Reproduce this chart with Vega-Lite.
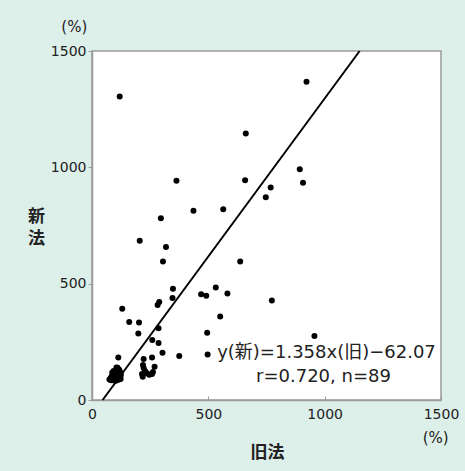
{
  "$schema": "https://vega.github.io/schema/vega-lite/v6.json",
  "autosize": {"type": "none"},
  "width": 349,
  "height": 349,
  "padding": {"left": 92, "top": 51, "right": 24, "bottom": 71},
  "background": "#dcefe9",
  "config": {
    "view": {"fill": "white", "stroke": "#9a9a9a", "strokeWidth": 1.5},
    "font": "DejaVu Sans"
  },
  "datasets": {
    "points": [
      {"old": 119, "new": 1304}, {"old": 922, "new": 1368}, {"old": 661, "new": 1145},
      {"old": 893, "new": 992}, {"old": 907, "new": 934}, {"old": 658, "new": 944},
      {"old": 363, "new": 942}, {"old": 768, "new": 913}, {"old": 747, "new": 871},
      {"old": 436, "new": 813}, {"old": 564, "new": 820}, {"old": 296, "new": 781},
      {"old": 205, "new": 684}, {"old": 318, "new": 658}, {"old": 305, "new": 595},
      {"old": 637, "new": 595}, {"old": 348, "new": 478}, {"old": 532, "new": 484},
      {"old": 469, "new": 454}, {"old": 491, "new": 448}, {"old": 582, "new": 458},
      {"old": 346, "new": 438}, {"old": 773, "new": 428}, {"old": 289, "new": 421},
      {"old": 282, "new": 408}, {"old": 130, "new": 392}, {"old": 551, "new": 359},
      {"old": 160, "new": 335}, {"old": 202, "new": 333}, {"old": 286, "new": 308},
      {"old": 199, "new": 286}, {"old": 495, "new": 289}, {"old": 956, "new": 275},
      {"old": 259, "new": 258}, {"old": 286, "new": 245}, {"old": 303, "new": 203},
      {"old": 375, "new": 189}, {"old": 497, "new": 196}, {"old": 113, "new": 183},
      {"old": 222, "new": 176}, {"old": 258, "new": 183}, {"old": 110, "new": 139},
      {"old": 219, "new": 150}, {"old": 222, "new": 138}, {"old": 228, "new": 125},
      {"old": 236, "new": 115}, {"old": 246, "new": 108}, {"old": 258, "new": 112},
      {"old": 269, "new": 143}, {"old": 218, "new": 100}, {"old": 215, "new": 112},
      {"old": 262, "new": 120},
      {"old": 75, "new": 88}, {"old": 80, "new": 95}, {"old": 82, "new": 85},
      {"old": 85, "new": 102}, {"old": 88, "new": 92}, {"old": 90, "new": 110},
      {"old": 92, "new": 98}, {"old": 94, "new": 88}, {"old": 96, "new": 105},
      {"old": 98, "new": 115}, {"old": 100, "new": 92}, {"old": 101, "new": 100},
      {"old": 103, "new": 108}, {"old": 104, "new": 120}, {"old": 106, "new": 95},
      {"old": 107, "new": 85}, {"old": 108, "new": 112}, {"old": 110, "new": 100},
      {"old": 111, "new": 125}, {"old": 112, "new": 92}, {"old": 113, "new": 108},
      {"old": 114, "new": 118}, {"old": 115, "new": 98}, {"old": 116, "new": 88},
      {"old": 117, "new": 130}, {"old": 118, "new": 105}, {"old": 119, "new": 112},
      {"old": 120, "new": 95}, {"old": 121, "new": 120}, {"old": 122, "new": 100},
      {"old": 123, "new": 90}, {"old": 124, "new": 110}, {"old": 87, "new": 118},
      {"old": 93, "new": 125}, {"old": 99, "new": 82}, {"old": 109, "new": 130},
      {"old": 105, "new": 140}
    ],
    "fit": [
      {"old": 45.7, "new": 0},
      {"old": 1150.3, "new": 1500}
    ],
    "equation": [
      {"old": 538, "new": 200, "label": "y(新)=1.358x(旧)−62.07"},
      {"old": 705, "new": 99, "label": "r=0.720, n=89"}
    ],
    "units": [
      {"old": -76, "new": 1602, "label": "(%)"},
      {"old": 1477, "new": -162, "label": "(%)"}
    ]
  },
  "layer": [
    {
      "data": {"name": "points"},
      "mark": {"type": "circle", "size": 36, "color": "black", "opacity": 1},
      "encoding": {
        "x": {
          "field": "old", "type": "quantitative",
          "scale": {"domain": [0, 1500], "nice": false},
          "axis": {
            "values": [0, 500, 1000, 1500],
            "format": "d",
            "grid": false,
            "tickSize": -4,
            "tickColor": "#9a9a9a",
            "domainColor": "#9a9a9a",
            "domainWidth": 1.5,
            "labelPadding": 11,
            "labelFont": "DejaVu Sans",
            "labelFontSize": 14,
            "labelColor": "#222",
            "labelFlush": false,
            "title": "旧法",
            "titleFont": "Noto Sans CJK JP",
            "titleFontSize": 17,
            "titleFontWeight": "bold",
            "titleColor": "#222",
            "titleX": 175,
            "titleY": 52,
            "titleBaseline": "middle",
            "titleAlign": "center"
          }
        },
        "y": {
          "field": "new", "type": "quantitative",
          "scale": {"domain": [0, 1500], "nice": false},
          "axis": {
            "values": [0, 500, 1000, 1500],
            "format": "d",
            "grid": false,
            "tickSize": 4,
            "tickColor": "#9a9a9a",
            "domainColor": "#9a9a9a",
            "domainWidth": 1.5,
            "labelPadding": 2,
            "labelFont": "DejaVu Sans",
            "labelFontSize": 14,
            "labelColor": "#222",
            "labelFlush": false,
            "title": ["新", "法"],
            "titleFont": "Noto Sans CJK JP",
            "titleFontSize": 17,
            "titleFontWeight": "bold",
            "titleColor": "#222",
            "titleAngle": 0,
            "titleX": -56,
            "titleY": 165,
            "titleAlign": "center",
            "titleBaseline": "middle",
            "titleLineHeight": 22
          }
        }
      }
    },
    {
      "data": {"name": "fit"},
      "mark": {"type": "line", "color": "black", "strokeWidth": 2},
      "encoding": {
        "x": {"field": "old", "type": "quantitative"},
        "y": {"field": "new", "type": "quantitative"}
      }
    },
    {
      "data": {"name": "equation"},
      "mark": {"type": "text", "align": "left", "baseline": "middle", "font": "DejaVu Sans, Noto Sans CJK JP", "fontSize": 18, "color": "#222"},
      "encoding": {
        "x": {"field": "old", "type": "quantitative"},
        "y": {"field": "new", "type": "quantitative"},
        "text": {"field": "label"}
      }
    },
    {
      "data": {"name": "units"},
      "mark": {"type": "text", "align": "center", "baseline": "middle", "font": "DejaVu Sans", "fontSize": 15, "color": "#222"},
      "encoding": {
        "x": {"field": "old", "type": "quantitative"},
        "y": {"field": "new", "type": "quantitative"},
        "text": {"field": "label"}
      }
    }
  ]
}
